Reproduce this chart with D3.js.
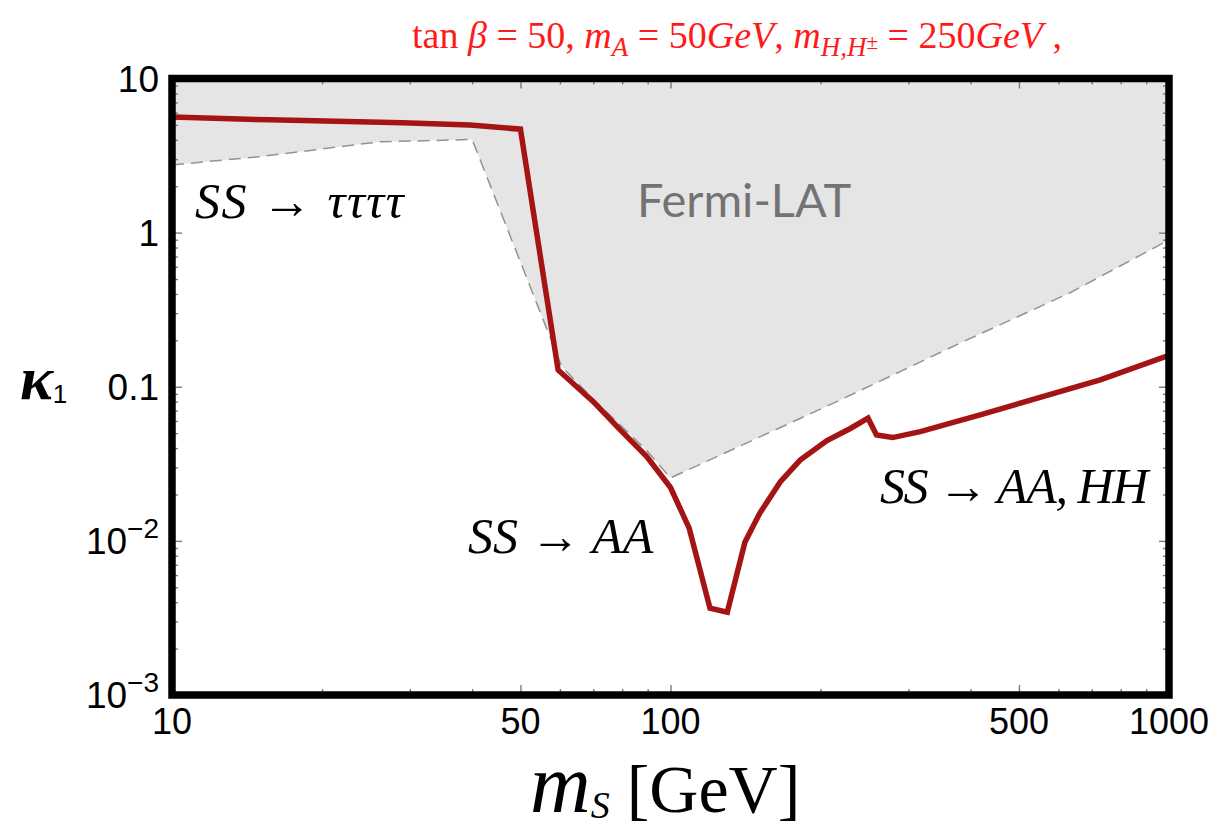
<!DOCTYPE html>
<html>
<head>
<meta charset="utf-8">
<script src="https://cdn.jsdelivr.net/npm/d3@7"></script>
<style>
  body { margin: 0; background: #fff; }
  svg { display: block; }
</style>
</head>
<body>
<div class="container"></div>
<script>
// red curve: relic-density constraint on kappa_1 vs m_S
const redMass  = [10, 15.7, 29, 39.6, 50, 59.5, 70, 79.3, 89.6, 100, 109, 120, 130, 141, 151, 166, 182, 206, 230, 249, 259, 279, 317, 418, 728, 1000];
const redKappa = [5.63, 5.39, 5.17, 5.0, 4.69, 0.1285, 0.080, 0.0525, 0.0352, 0.0222, 0.0121, 0.00366, 0.00345, 0.0098, 0.0151, 0.0241, 0.0334, 0.0448, 0.0538, 0.0625, 0.0487, 0.0468, 0.0511, 0.0656, 0.111, 0.160];

// Fermi-LAT excluded region, lower boundary (dashed)
const fermiMass  = [10, 15, 26, 40, 60.5, 70, 79.3, 89.6, 100, 219, 381, 632, 1000];
const fermiKappa = [2.75, 3.11, 3.88, 4.02, 0.135, 0.083, 0.0565, 0.0385, 0.0256, 0.082, 0.192, 0.406, 0.897];

const xMajor = [10, 50, 100, 500, 1000];
const xMinor = [20, 30, 40, 60, 70, 80, 90, 200, 300, 400, 600, 700, 800, 900];
const yMajor = [1e-3, 1e-2, 0.1, 1, 10];
const yLabels = [["10", "−3"], ["10", "−2"], ["0.1"], ["1"], ["10"]];

const width = 1215;
const height = 836;
const margin = { top: 78.5, right: 46, bottom: 141, left: 172 };

const svg = d3.select(".container")
  .append("svg")
  .attr("width", width)
  .attr("height", height);

const x = d3.scaleLog()
  .domain([10, 1000])
  .range([margin.left, width - margin.right]);
const y = d3.scaleLog()
  .domain([1e-3, 10])
  .range([height - margin.bottom, margin.top]);

const x0 = x.range()[0], x1 = x.range()[1];
const y0 = y.range()[0], y1 = y.range()[1];

svg.append("defs")
  .append("clipPath")
  .attr("id", "plot-clip")
  .append("rect")
  .attr("x", x0).attr("y", y1)
  .attr("width", x1 - x0).attr("height", y0 - y1);

const plot = svg.append("g").attr("clip-path", "url(#plot-clip)");

// gray shaded region (above the boundary)
const region = fermiMass.map((m, i) => [m, fermiKappa[i]]);
const area = d3.area()
  .x((d) => x(d[0]))
  .y0(y(10))
  .y1((d) => y(d[1]));

plot.append("path")
  .datum(region)
  .attr("fill", "#e5e5e5")
  .attr("d", area);

plot.append("path")
  .datum(region)
  .attr("fill", "none")
  .attr("stroke", "#939393")
  .attr("stroke-width", 1.5)
  .attr("stroke-dasharray", "12,7")
  .attr("d", d3.line().x((d) => x(d[0])).y((d) => y(d[1])));

// red curve
const red = redMass.map((m, i) => [m, redKappa[i]]);
plot.append("path")
  .datum(red)
  .attr("fill", "none")
  .attr("stroke", "#a51414")
  .attr("stroke-width", 5.5)
  .attr("stroke-linejoin", "miter")
  .attr("d", d3.line().x((d) => x(d[0])).y((d) => y(d[1])));

// ticks (inward, on all four sides)
const yMinor = yMajor.slice(0, -1).flatMap((d) => d3.range(2, 10).map((k) => k * d));
function tickAxis(axisFn, scale, values, size, transform) {
  svg.append("g")
    .attr("transform", transform)
    .call(axisFn(scale).tickValues(values).tickSize(size).tickFormat(""))
    .call((g) => g.select(".domain").remove())
    .call((g) => g.selectAll(".tick line").attr("stroke", "#7a7a7a").attr("stroke-width", 1.4));
}
tickAxis(d3.axisBottom, x, xMajor, -10, `translate(0,${y0})`);
tickAxis(d3.axisBottom, x, xMinor, -6, `translate(0,${y0})`);
tickAxis(d3.axisTop, x, xMajor, -10, `translate(0,${y1})`);
tickAxis(d3.axisTop, x, xMinor, -6, `translate(0,${y1})`);
tickAxis(d3.axisLeft, y, yMajor, -10, `translate(${x0},0)`);
tickAxis(d3.axisLeft, y, yMinor, -6, `translate(${x0},0)`);
tickAxis(d3.axisRight, y, yMajor, -10, `translate(${x1},0)`);
tickAxis(d3.axisRight, y, yMinor, -6, `translate(${x1},0)`);

// frame
svg.append("rect")
  .attr("x", x0).attr("y", y1)
  .attr("width", x1 - x0).attr("height", y0 - y1)
  .attr("fill", "none")
  .attr("stroke", "#000")
  .attr("stroke-width", 7.5);

// tick labels
const tickFont = "'Liberation Sans', Arial, sans-serif";
svg.append("g")
  .selectAll("text")
  .data(xMajor)
  .join("text")
  .attr("x", (d) => x(d))
  .attr("y", y0 + 39)
  .attr("text-anchor", "middle")
  .attr("font-family", tickFont)
  .attr("font-size", 36)
  .text((d) => d);

const yl = svg.append("g")
  .selectAll("text")
  .data(yMajor)
  .join("text")
  .attr("x", 159)
  .attr("y", (d) => y(d) + 13)
  .attr("text-anchor", "end")
  .attr("font-family", tickFont)
  .attr("font-size", 37);
yl.append("tspan").text((d, i) => yLabels[i][0]);
yl.filter((d, i) => yLabels[i].length > 1)
  .append("tspan")
  .attr("dy", -16)
  .attr("font-size", 28)
  .text((d) => yLabels[yMajor.indexOf(d)][1]);

// helper for rich text
function richText(sel, parts) {
  let shift = 0;
  parts.forEach((p) => {
    const t = sel.append("tspan").text(p.t);
    if (p.italic) t.attr("font-style", "italic");
    if (p.size) t.attr("font-size", p.size);
    if (p.family) t.attr("font-family", p.family);
    if (p.weight) t.attr("font-weight", p.weight);
    const target = p.dy || 0;
    if (target !== shift) { t.attr("dy", target - shift); shift = target; }
  });
  return sel;
}

// title
const serif = "'Liberation Serif', 'Times New Roman', serif";
richText(
  svg.append("text")
    .attr("x", 737).attr("y", 48)
    .attr("text-anchor", "middle")
    .attr("font-family", serif)
    .attr("font-size", 38)
    .attr("fill", "#ff1a1a"),
  [
    { t: "tan " },
    { t: "β", italic: true },
    { t: " = 50, " },
    { t: "m", italic: true },
    { t: "A", italic: true, size: 27, dy: 8 },
    { t: " = 50", dy: 0 },
    { t: "GeV", italic: true },
    { t: ", " },
    { t: "m", italic: true },
    { t: "H,H", italic: true, size: 27, dy: 8 },
    { t: "±", size: 21, dy: 1 },
    { t: " = 250", dy: 0 },
    { t: "GeV", italic: true },
    { t: " ," }
  ]
);

// axis titles
richText(
  svg.append("text")
    .attr("x", 530).attr("y", 812)
    .attr("font-family", serif)
    .attr("font-size", 68),
  [
    { t: "m", italic: true, size: 84 },
    { t: "S", italic: true, size: 38, dy: 6 },
    { t: " [GeV]", dy: 0 }
  ]
);

richText(
  svg.append("text")
    .attr("x", 20).attr("y", 399)
    .attr("font-family", serif)
    .attr("font-size", 62),
  [
    { t: "κ", italic: true, weight: "bold" },
    { t: "1", size: 26, family: tickFont, dy: 4 }
  ]
);

// annotations
const annot = [
  { t: "SS → ττττ", x: 195, y: 218, ls: 1.5 },
  { t: "SS → AA", x: 468, y: 553, ls: 0 },
  { t: "SS → AA, HH", x: 880, y: 503, ls: -1.4 }
];
svg.append("g")
  .selectAll("text")
  .data(annot)
  .join("text")
  .attr("x", (d) => d.x)
  .attr("y", (d) => d.y)
  .attr("font-family", serif)
  .attr("font-style", "italic")
  .attr("font-size", 50)
  .attr("letter-spacing", (d) => d.ls)
  .text((d) => d.t);

svg.append("text")
  .attr("x", 637).attr("y", 217)
  .attr("font-family", "Lato, 'Open Sans', sans-serif")
  .attr("font-size", 47)
  .attr("fill", "#737373")
  .text("Fermi-LAT");
</script>
</body>
</html>
